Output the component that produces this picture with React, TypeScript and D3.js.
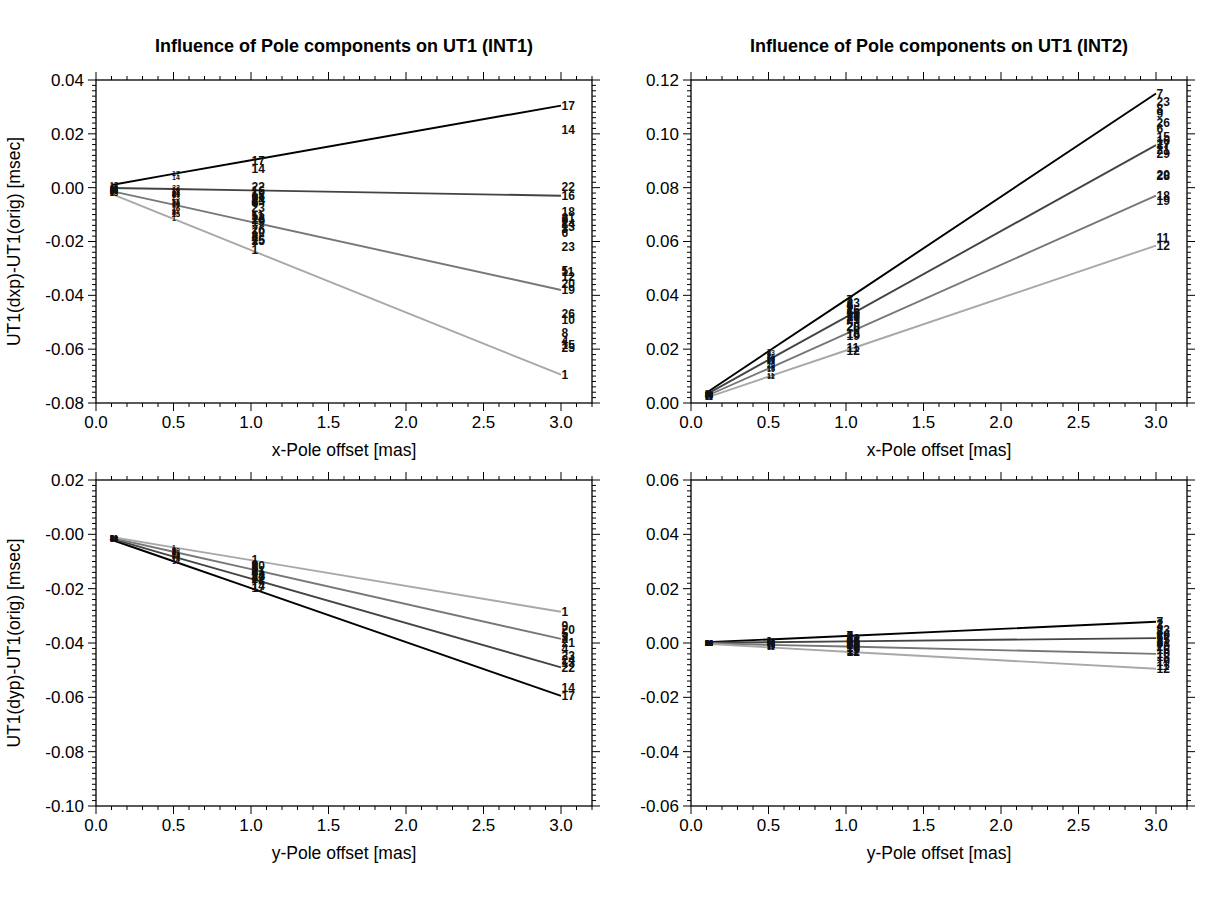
import React from "react";
import * as d3 from "d3";

// ---------- shared axis data ----------
const X_OFFSETS = [0.1, 0.5, 1.0, 3.0];
const X_MAJOR = [0, 0.5, 1.0, 1.5, 2.0, 2.5, 3.0];
const X_MAJOR_LABELS = ["0.0", "0.5", "1.0", "1.5", "2.0", "2.5", "3.0"];
const X_DOMAIN = [0, 3.2];

// ---------- top-left: INT1, x-pole ----------
const TL_STATIONS = ["17", "14", "22", "16", "18", "21", "9", "2", "24", "13", "3", "6", "23", "5", "11", "12", "20", "19", "26", "10", "8", "4", "15", "25", "1"];
const TL_V30 = [0.0305, 0.0215, 0.0005, -0.003, -0.009, -0.011, -0.0118, -0.0125, -0.0135, -0.0145, -0.0152, -0.0168, -0.022, -0.0308, -0.0312, -0.033, -0.0355, -0.038, -0.047, -0.049, -0.054, -0.057, -0.0585, -0.0595, -0.0695];
const TL_V10 = [0.0102, 0.0072, 0.0002, -0.001, -0.003, -0.0037, -0.0039, -0.0042, -0.0045, -0.0048, -0.0051, -0.0056, -0.0073, -0.0103, -0.0104, -0.011, -0.0118, -0.0127, -0.0157, -0.0163, -0.018, -0.019, -0.0195, -0.0198, -0.0232];
const TL_V05 = [0.0051, 0.0036, 0.0001, -0.0005, -0.0015, -0.0018, -0.002, -0.0021, -0.0023, -0.0024, -0.0025, -0.0028, -0.0037, -0.0051, -0.0052, -0.0055, -0.0059, -0.0063, -0.0078, -0.0082, -0.009, -0.0095, -0.0098, -0.0099, -0.0116];
const TL_V01 = [0.001, 0.0007, 0.0, -0.0001, -0.0003, -0.0004, -0.0004, -0.0004, -0.0005, -0.0005, -0.0005, -0.0006, -0.0007, -0.001, -0.001, -0.0011, -0.0012, -0.0013, -0.0016, -0.0016, -0.0018, -0.0019, -0.002, -0.002, -0.0023];
const TL_LINES = ["17", "16", "19", "1"];
const TL_Y_TICKS = [-0.08, -0.06, -0.04, -0.02, 0.0, 0.02, 0.04];
const TL_Y_LABELS = ["-0.08", "-0.06", "-0.04", "-0.02", "0.00", "0.02", "0.04"];

// ---------- top-right: INT2, x-pole ----------
const TR_STATIONS = ["7", "23", "8", "9", "26", "6", "15", "16", "27", "17", "21", "29", "20", "28", "18", "19", "11", "12"];
const TR_V30 = [0.115, 0.112, 0.1095, 0.1075, 0.104, 0.102, 0.099, 0.0975, 0.0965, 0.0958, 0.094, 0.0925, 0.085, 0.0845, 0.077, 0.0752, 0.0615, 0.0585];
const TR_V10 = [0.0383, 0.0373, 0.0365, 0.0358, 0.0347, 0.034, 0.033, 0.0325, 0.0322, 0.0319, 0.0313, 0.0308, 0.0283, 0.0282, 0.0257, 0.0251, 0.0205, 0.0195];
const TR_V05 = [0.0192, 0.0187, 0.0183, 0.0179, 0.0173, 0.017, 0.0165, 0.0163, 0.0161, 0.016, 0.0157, 0.0154, 0.0142, 0.0141, 0.0128, 0.0125, 0.0103, 0.0098];
const TR_V01 = [0.0038, 0.0037, 0.0037, 0.0036, 0.0035, 0.0034, 0.0033, 0.0033, 0.0032, 0.0032, 0.0031, 0.0031, 0.0028, 0.0028, 0.0026, 0.0025, 0.0021, 0.002];
const TR_LINES = ["7", "17", "18", "12"];
const TR_Y_TICKS = [0.0, 0.02, 0.04, 0.06, 0.08, 0.1, 0.12];
const TR_Y_LABELS = ["0.00", "0.02", "0.04", "0.06", "0.08", "0.10", "0.12"];

// ---------- bottom-left: INT1, y-pole ----------
const BL_STATIONS = ["1", "9", "20", "5", "3", "2", "21", "4", "23", "24", "13", "22", "14", "17"];
const BL_V30 = [-0.0285, -0.0335, -0.0352, -0.0365, -0.0375, -0.0385, -0.04, -0.042, -0.0445, -0.046, -0.0472, -0.049, -0.0565, -0.0595];
const BL_V10 = [-0.0095, -0.0112, -0.0117, -0.0122, -0.0125, -0.0128, -0.0133, -0.014, -0.0148, -0.0153, -0.0157, -0.0163, -0.0188, -0.0198];
const BL_V05 = [-0.0048, -0.0056, -0.0059, -0.0061, -0.0063, -0.0064, -0.0067, -0.007, -0.0074, -0.0077, -0.0079, -0.0082, -0.0094, -0.0099];
const BL_V01 = [-0.001, -0.0011, -0.0012, -0.0012, -0.0013, -0.0013, -0.0013, -0.0014, -0.0015, -0.0015, -0.0016, -0.0016, -0.0019, -0.002];
const BL_LINES = ["17", "22", "2", "1"];
const BL_Y_TICKS = [-0.1, -0.08, -0.06, -0.04, -0.02, 0.0, 0.02];
const BL_Y_LABELS = ["-0.10", "-0.08", "-0.06", "-0.04", "-0.02", "-0.00", "0.02"];

// ---------- bottom-right: INT2, y-pole ----------
const BR_STATIONS = ["7", "2", "3", "23", "8", "26", "6", "17", "15", "21", "9", "20", "16", "10", "18", "19", "11", "12"];
const BR_V30 = [0.0078, 0.0072, 0.0066, 0.005, 0.004, 0.003, 0.0022, 0.0018, 0.0012, 0.0005, -0.0002, -0.0012, -0.0025, -0.004, -0.0052, -0.0068, -0.0082, -0.0095];
const BR_V10 = [0.0026, 0.0024, 0.0022, 0.0017, 0.0013, 0.001, 0.0007, 0.0006, 0.0004, 0.0002, -0.0001, -0.0004, -0.0008, -0.0013, -0.0017, -0.0023, -0.0027, -0.0032];
const BR_V05 = [0.0013, 0.0012, 0.0011, 0.0008, 0.0007, 0.0005, 0.0004, 0.0003, 0.0002, 0.0001, 0.0, -0.0002, -0.0004, -0.0007, -0.0009, -0.0011, -0.0014, -0.0016];
const BR_V01 = [0.0003, 0.0002, 0.0002, 0.0002, 0.0001, 0.0001, 0.0001, 0.0001, 0.0, 0.0, 0.0, 0.0, -0.0001, -0.0001, -0.0002, -0.0002, -0.0003, -0.0003];
const BR_LINES = ["7", "17", "10", "12"];
const BR_Y_TICKS = [-0.06, -0.04, -0.02, 0.0, 0.02, 0.04, 0.06];
const BR_Y_LABELS = ["-0.06", "-0.04", "-0.02", "0.00", "0.02", "0.04", "0.06"];

const LINE_COLORS = ["#000000", "#444444", "#777777", "#a8a8a8"];

const FONT = "'Liberation Sans', Arial, Helvetica, sans-serif";

type PanelCfg = {
  left: number;
  top: number;
  width: number;
  height: number;
  yDomain: [number, number];
  yTicks: number[];
  yLabels: string[];
  stations: string[];
  series: number[][];
  lines: string[];
  title?: string;
  xTitle: string;
  yTitle?: string;
};

function Panel({ p }: { p: PanelCfg }) {
  const x = d3.scaleLinear().domain(X_DOMAIN).range([p.left, p.left + p.width]);
  const y = d3.scaleLinear().domain(p.yDomain).range([p.top + p.height, p.top]);
  const xMinor = d3.range(0, 33).map((i) => i / 10);
  const yLo = Math.round(p.yDomain[0] * 500);
  const yHi = Math.round(p.yDomain[1] * 500);
  const yMinor = d3.range(yLo, yHi + 1).map((i) => i / 500);
  const isMajorY = (v: number) => p.yTicks.some((t) => Math.abs(t - v) < 1e-9);
  const isMajorX = (v: number) => X_MAJOR.some((t) => Math.abs(t - v) < 1e-9);
  const L = p.left, R = p.left + p.width, T = p.top, B = p.top + p.height;
  const line = d3
    .line<[number, number]>()
    .x((d) => x(d[0]))
    .y((d) => y(d[1]));

  return (
    <g>
      {p.title && (
        <text x={(L + R) / 2} y={T - 28} textAnchor="middle" fontFamily={FONT} fontWeight="bold" fontSize={18}>
          {p.title}
        </text>
      )}
      {p.lines.map((id, k) => {
        const i = p.stations.indexOf(id);
        const pts: [number, number][] = X_OFFSETS.map((o, j) => [o, p.series[j][i]]);
        return <path key={id} d={line(pts) || ""} fill="none" stroke={LINE_COLORS[k]} strokeWidth={1.9} />;
      })}
      {X_OFFSETS.map((o, j) =>
        p.stations.map((id, i) => {
          const small = o < 0.9;
          return (
            <text
              key={`${j}-${i}`}
              x={x(o) + (small ? -1.5 : 0.5)}
              y={y(p.series[j][i])}
              dy="0.36em"
              fontFamily={FONT}
              fontWeight="bold"
              fontSize={small ? 7 : 12}
              fill="#111"
            >
              {id}
            </text>
          );
        })
      )}
      <rect x={L} y={T} width={p.width} height={p.height} fill="none" stroke="#000" strokeWidth={1.3} />
      {xMinor.map((v) => {
        const len = isMajorX(v) ? 8 : 4;
        return (
          <g key={`xt${v}`} stroke="#000" strokeWidth={1}>
            <line x1={x(v)} x2={x(v)} y1={B} y2={B + len} />
            <line x1={x(v)} x2={x(v)} y1={T} y2={T - len} />
          </g>
        );
      })}
      {yMinor.map((v) => {
        const len = isMajorY(v) ? 8 : 4;
        return (
          <g key={`yt${v}`} stroke="#000" strokeWidth={1}>
            <line x1={L} x2={L - len} y1={y(v)} y2={y(v)} />
            <line x1={R} x2={R + len} y1={y(v)} y2={y(v)} />
          </g>
        );
      })}
      {X_MAJOR.map((v, i) => (
        <text key={`xl${i}`} x={x(v)} y={B + 25} textAnchor="middle" fontFamily={FONT} fontSize={17}>
          {X_MAJOR_LABELS[i]}
        </text>
      ))}
      {p.yTicks.map((v, i) => (
        <text key={`yl${i}`} x={L - 12} y={y(v)} dy="0.35em" textAnchor="end" fontFamily={FONT} fontSize={17}>
          {p.yLabels[i]}
        </text>
      ))}
      <text x={(L + R) / 2} y={B + 53} textAnchor="middle" fontFamily={FONT} fontSize={17.5}>
        {p.xTitle}
      </text>
      {p.yTitle && (
        <text
          transform={`translate(${L - 76},${(T + B) / 2}) rotate(-90)`}
          textAnchor="middle"
          fontFamily={FONT}
          fontSize={17.5}
        >
          {p.yTitle}
        </text>
      )}
    </g>
  );
}

export default function App() {
  const W = 496;
  const H = 323;
  const panels: PanelCfg[] = [
    {
      left: 96, top: 80, width: W, height: H, yDomain: [-0.08, 0.04],
      yTicks: TL_Y_TICKS, yLabels: TL_Y_LABELS, stations: TL_STATIONS,
      series: [TL_V01, TL_V05, TL_V10, TL_V30], lines: TL_LINES,
      title: "Influence of Pole components on UT1 (INT1)", xTitle: "x-Pole offset [mas]",
      yTitle: "UT1(dxp)-UT1(orig) [msec]",
    },
    {
      left: 691, top: 80, width: W, height: H, yDomain: [0, 0.12],
      yTicks: TR_Y_TICKS, yLabels: TR_Y_LABELS, stations: TR_STATIONS,
      series: [TR_V01, TR_V05, TR_V10, TR_V30], lines: TR_LINES,
      title: "Influence of Pole components on UT1 (INT2)", xTitle: "x-Pole offset [mas]",
    },
    {
      left: 96, top: 480, width: W, height: 326, yDomain: [-0.1, 0.02],
      yTicks: BL_Y_TICKS, yLabels: BL_Y_LABELS, stations: BL_STATIONS,
      series: [BL_V01, BL_V05, BL_V10, BL_V30], lines: BL_LINES,
      xTitle: "y-Pole offset [mas]", yTitle: "UT1(dyp)-UT1(orig) [msec]",
    },
    {
      left: 691, top: 480, width: W, height: 326, yDomain: [-0.06, 0.06],
      yTicks: BR_Y_TICKS, yLabels: BR_Y_LABELS, stations: BR_STATIONS,
      series: [BR_V01, BR_V05, BR_V10, BR_V30], lines: BR_LINES,
      xTitle: "y-Pole offset [mas]",
    },
  ];
  return (
    <svg width={1210} height={911} style={{ display: "block", position: "absolute", left: 0, top: 0, background: "#fff" }}>
      <rect width={1210} height={911} fill="#fff" />
      {panels.map((p, i) => (
        <Panel key={i} p={p} />
      ))}
    </svg>
  );
}
